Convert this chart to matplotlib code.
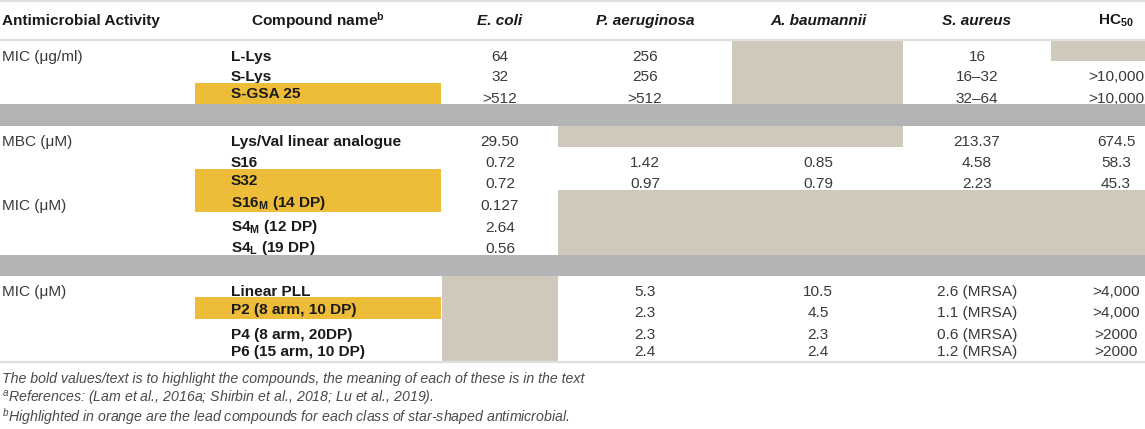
import matplotlib
matplotlib.use("Agg")
import matplotlib.pyplot as plt
from matplotlib.patches import Rectangle

plt.rcParams['font.family'] = ['Liberation Sans', 'DejaVu Sans']
plt.rcParams['mathtext.fontset'] = 'custom'
plt.rcParams['mathtext.rm'] = 'Liberation Sans'
plt.rcParams['mathtext.it'] = 'Liberation Sans:italic'
plt.rcParams['mathtext.bf'] = 'Liberation Sans:bold'

# --- table content ---
activity = ["MIC (μg/ml)", "MBC (μM)", "MIC (μM)", "MIC (μM)"]
compounds = ["L-Lys", "S-Lys", "S-GSA 25",
             "Lys/Val linear analogue", "S16", "S32",
             r"S16$_\mathbf{M}$ (14 DP)", r"S4$_\mathbf{M}$ (12 DP)", r"S4$_\mathbf{L}$ (19 DP)",
             "Linear PLL", "P2 (8 arm, 10 DP)", "P4 (8 arm, 20DP)", "P6 (15 arm, 10 DP)"]
lead = [False, False, True, False, False, True, True, False, False, False, True, False, False]
species = ["E. coli", "P. aeruginosa", "A. baumannii", "S. aureus"]
e_coli = ["64", "32", ">512", "29.50", "0.72", "0.72", "0.127", "2.64", "0.56", "", "", "", ""]
p_aeruginosa = ["256", "256", ">512", "", "1.42", "0.97", "", "", "", "5.3", "2.3", "2.3", "2.4"]
a_baumannii = ["", "", "", "", "0.85", "0.79", "", "", "", "10.5", "4.5", "2.3", "2.4"]
s_aureus = ["16", "16–32", "32–64", "213.37", "4.58", "2.23", "", "", "",
            "2.6 (MRSA)", "1.1 (MRSA)", "0.6 (MRSA)", "1.2 (MRSA)"]
hc50 = ["", ">10,000", ">10,000", "674.5", "58.3", "45.3", "", "", "",
        ">4,000", ">4,000", ">2000", ">2000"]
footnotes = ["The bold values/text is to highlight the compounds, the meaning of each of these is in the text",
             r"$^{a}$References: (Lam et al., 2016a; Shirbin et al., 2018; Lu et al., 2019).",
             r"$^{b}$Highlighted in orange are the lead compounds for each class of star-shaped antimicrobial."]

# --- layout (pixels) ---
W, H = 1145, 429
row_top = [40, 61, 83, 126, 147, 169, 190, 212, 233, 276, 297, 319, 340]
row_bot = [61, 83, 104, 147, 169, 190, 212, 233, 255, 297, 319, 340, 362]
name_y = [57, 77, 94, 142, 163, 181, 203, 227, 248, 292, 310, 335, 352]
value_y = [57, 77, 99, 142, 163, 184, 206, 228, 249, 292, 313, 335, 352]
activity_y = [57, 142, 206, 292]
col_left = [442, 558, 732, 903, 1051]
col_right = [558, 732, 903, 1051, 1145]
col_x = [500, 645, 818, 977, 1116]
gray_bands = [(104, 126), (255, 276)]
after_row = [2, 8]

ORANGE = '#edbc38'
BEIGE = '#cec9ba'
GRAY = '#b4b3b5'
LINE = '#dedede'
FS = 11.1

fig = plt.figure(figsize=(W / 100, H / 100), dpi=100)
ax = fig.add_axes([0, 0, 1, 1])
ax.set_xlim(0, W)
ax.set_ylim(H, 0)
ax.axis('off')

# header
ax.text(2, 21, "Antimicrobial Activity", fontsize=FS, fontweight='bold', va='center', ha='left', color='#1a1a1a')
ax.text(318, 21, r"Compound name$^{\mathbf{b}}$", fontsize=FS, fontweight='bold', va='center', ha='center', color='#1a1a1a')
for s, x in zip(species, col_x):
    ax.text(x, 21, s, fontsize=FS, fontweight='bold', fontstyle='italic', va='center', ha='center', color='#1a1a1a')
ax.text(col_x[4], 21, r"HC$_{\mathbf{50}}$", fontsize=FS, fontweight='bold', va='center', ha='center', color='#1a1a1a')

for y in [1, 39.5, 362]:
    ax.axhline(y, color=LINE, lw=1.6, zorder=100)

cols = [e_coli, p_aeruginosa, a_baumannii, s_aureus, hc50]
for i in range(len(compounds)):
    zb = 2 * i + 1
    zt = 2 * i + 2
    if lead[i]:
        ax.add_patch(Rectangle((195, row_top[i]), 441 - 195, row_bot[i] - row_top[i],
                               color=ORANGE, lw=0, zorder=zb))
    for j, c in enumerate(cols):
        if c[i] == "":
            ax.add_patch(Rectangle((col_left[j], row_top[i]), col_right[j] - col_left[j],
                                   row_bot[i] - row_top[i], color=BEIGE, lw=0, zorder=zb))
        else:
            ax.text(col_x[j], value_y[i], c[i], fontsize=FS, va='center', ha='center',
                    color='#3a3a3a', zorder=zt)
    ax.text(231, name_y[i], compounds[i], fontsize=FS, fontweight='bold', va='center', ha='left',
            color='#1a1a1a', zorder=zt)
    if i in after_row:
        y0, y1 = gray_bands[after_row.index(i)]
        ax.add_patch(Rectangle((0, y0), W, y1 - y0, color=GRAY, lw=0, zorder=zt + 0.5))

for a, y in zip(activity, activity_y):
    ax.text(2, y, a, fontsize=FS, va='center', ha='left', color='#3a3a3a', zorder=50)

for f, y in zip(footnotes, [379, 399, 417]):
    ax.text(2, y, f, fontsize=10.2, fontstyle='italic', va='center', ha='left', color='#4a4a4a')

fig.savefig("out.png", dpi=100)
